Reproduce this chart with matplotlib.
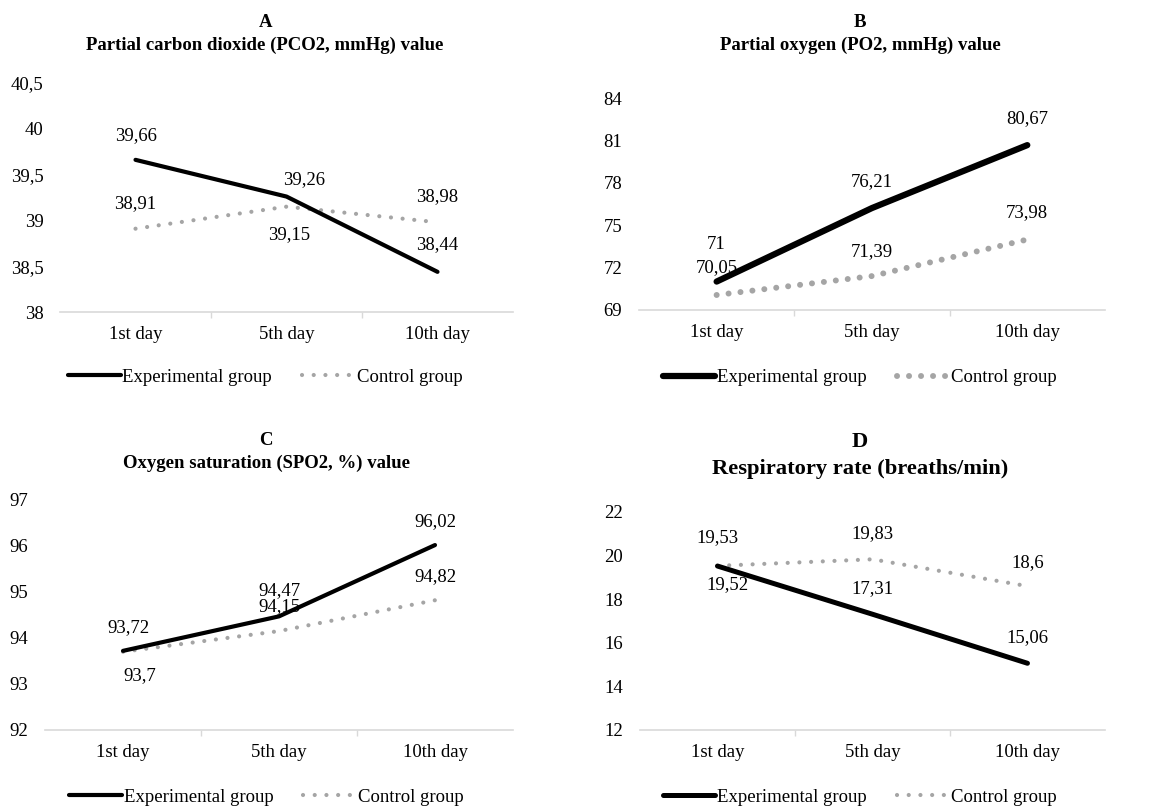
import matplotlib
matplotlib.use("Agg")
import matplotlib.pyplot as plt

plt.rcParams['font.family'] = ['Liberation Serif', 'DejaVu Serif']

days = ["1st day", "5th day", "10th day"]

pco2_exp = [39.66, 39.26, 38.44]
pco2_ctrl = [38.91, 39.15, 38.98]
po2_exp = [71, 76.21, 80.67]
po2_ctrl = [70.05, 71.39, 73.98]
spo2_exp = [93.72, 94.47, 96.02]
spo2_ctrl = [93.7, 94.15, 94.82]
rr_exp = [19.52, 17.31, 15.06]
rr_ctrl = [19.53, 19.83, 18.6]

pco2_ticks = [38, 38.5, 39, 39.5, 40, 40.5]
po2_ticks = [69, 72, 75, 78, 81, 84]
spo2_ticks = [92, 93, 94, 95, 96, 97]
rr_ticks = [12, 14, 16, 18, 20, 22]

GRAY = "#a5a5a5"
FS = 13.5


def fmt(v):
    s = ("%g" % v)
    return s.replace(".", ",")


def panel(fig, rect, letter, title, title_size, title_x, title_y, exp, ctrl, ticks,
          exp_lw, ctrl_lw, dot_gap, exp_off, ctrl_off, leg_y):
    ax = fig.add_axes(rect)
    x = range(len(days))
    ax.plot(x, exp, color="black", lw=exp_lw, solid_capstyle="round",
            label="Experimental group", zorder=3)
    ax.plot(x, ctrl, color=GRAY, lw=ctrl_lw, linestyle=(0, (0.01, dot_gap)),
            dash_capstyle="round", label="Control group", zorder=2)
    ax.set_xlim(-0.5, 2.5)
    ax.set_ylim(ticks[0], ticks[-1])
    ax.set_yticks(ticks)
    ax.set_yticklabels([fmt(t) for t in ticks])
    ax.set_xticks(list(x))
    ax.set_xticklabels(days)
    ax.set_xticks([0.5, 1.5], minor=True)
    ax.tick_params(axis="x", which="major", length=0, pad=10, labelsize=FS)
    ax.tick_params(axis="x", which="minor", length=4, color="#d9d9d9", width=1)
    ax.tick_params(axis="y", length=0, pad=12, labelsize=FS)
    for s in ["top", "right", "left"]:
        ax.spines[s].set_visible(False)
    ax.spines["bottom"].set_color("#d9d9d9")
    ax.spines["bottom"].set_linewidth(1.2)
    ax.set_facecolor("none")
    for i in x:
        ax.annotate(fmt(exp[i]), (i, exp[i]), xytext=exp_off[i], textcoords="offset pixels",
                    ha="center", va="center", fontsize=FS, clip_on=False)
        ax.annotate(fmt(ctrl[i]), (i, ctrl[i]), xytext=ctrl_off[i], textcoords="offset pixels",
                    ha="center", va="center", fontsize=FS, clip_on=False)
    fig.text(title_x, title_y, letter + "\n" + title, ha="center", va="center",
             fontsize=title_size, fontweight="bold", linespacing=1.45)
    ax.legend(loc="center", bbox_to_anchor=(title_x, leg_y), bbox_transform=fig.transFigure,
              ncol=2, frameon=False, fontsize=FS, handlelength=2.8, handletextpad=0.1,
              columnspacing=1.6)
    return ax


fig = plt.figure(figsize=(11.63, 8.11), dpi=100)

panel(fig, [0.0516, 0.615, 0.3895, 0.283], "A",
      "Partial carbon dioxide (PCO2, mmHg) value", 13.5, 0.228, 0.958,
      pco2_exp, pco2_ctrl, pco2_ticks, 3.0, 3.0, 2.8,
      [(0, 24), (18, 17), (0, 27)], [(0, 25), (3, -28), (0, 26)], 0.535)

panel(fig, [0.5494, 0.618, 0.4007, 0.261], "B",
      "Partial oxygen (PO2, mmHg) value", 13.5, 0.7395, 0.958,
      po2_exp, po2_ctrl, po2_ticks, 4.5, 4.3, 2.0,
      [(0, 37), (0, 26), (0, 27)], [(0, 27), (0, 24), (0, 27)], 0.534)

panel(fig, [0.0387, 0.0999, 0.4024, 0.2836], "C",
      "Oxygen saturation (SPO2, %) value", 13.5, 0.229, 0.443,
      spo2_exp, spo2_ctrl, spo2_ticks, 3.0, 3.0, 2.8,
      [(5, 23), (0, 26), (0, 23)], [(17, -24), (0, 24), (0, 24)], 0.017)

panel(fig, [0.5503, 0.0999, 0.3998, 0.2688], "D",
      "Respiratory rate (breaths/min)", 16.2, 0.7395, 0.438,
      rr_exp, rr_ctrl, rr_ticks, 3.6, 3.0, 2.8,
      [(10, -19), (0, 26), (0, 26)], [(0, 28), (0, 26), (0, 24)], 0.017)

fig.savefig("out.png", dpi=100, facecolor="white")
